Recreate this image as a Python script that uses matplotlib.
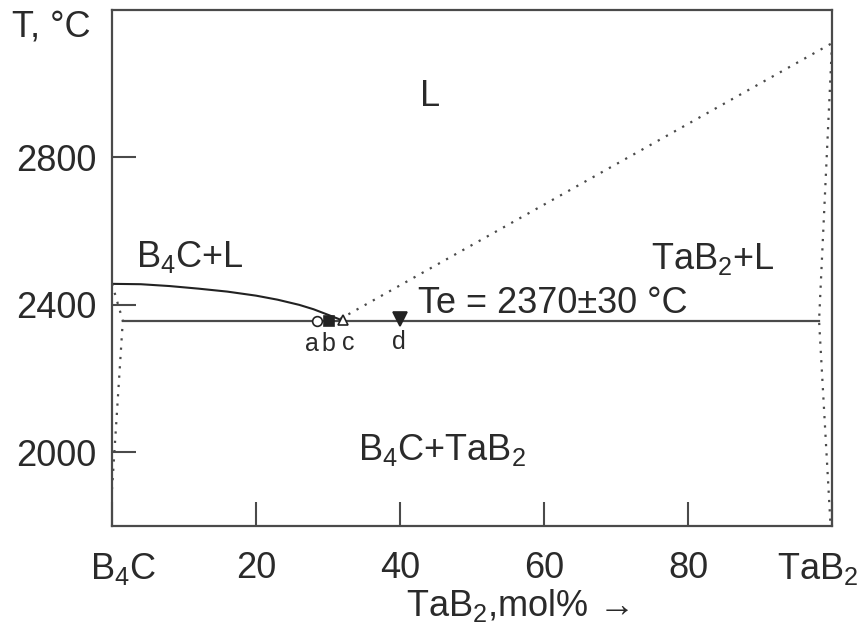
import matplotlib
matplotlib.use("Agg")
import matplotlib.pyplot as plt
import matplotlib.transforms as mtransforms

plt.rcParams["font.family"] = ["Liberation Sans", "DejaVu Sans"]
plt.rcParams["mathtext.default"] = "regular"

# phase-boundary data (x = TaB2 mol%, T in deg C)
eutectic_T = 2357
eutectic_x = [1.5, 98.2]
liq_b4c_x = [0, 4, 8, 12, 16, 20, 23, 26, 28, 30, 31.7]
liq_b4c_T = [2457, 2456, 2451, 2444, 2436, 2425, 2414, 2400, 2388, 2373, 2360]
liq_tab2_x = [31.7, 100]
liq_tab2_T = [2362, 3110]
sol_b4c_x = [0, 1.5, 0]
sol_b4c_T = [2457, 2357, 1900]
sol_tab2_x = [100, 98.2, 99.8]
sol_tab2_T = [3110, 2357, 1800]

# experimental points
pt_names = ["a", "b", "c", "d"]
pt_x = [28.5, 30.1, 32.1, 40.0]
pt_T = [2357, 2357, 2359, 2362]
pt_marker = ["o", "s", "^", "v"]
pt_filled = [False, True, False, True]

xticks = [0, 20, 40, 60, 80, 100]
xticklabels = ["B$_4$C", "20", "40", "60", "80", "TaB$_2$"]
yticks = [2000, 2400, 2800]

ink = "#2a2a2a"
line = "#4a4a4a"

fig = plt.figure(figsize=(8.59, 6.28), dpi=100)
ax = fig.add_axes([0.1304, 0.1624, 0.8382, 0.8217])
ax.set_xlim(0, 100)
ax.set_ylim(1800, 3200)

ax.plot(eutectic_x, [eutectic_T, eutectic_T], color=line, lw=1.6)
ax.plot(liq_b4c_x, liq_b4c_T, color="#222222", lw=1.5)
dots = dict(color=line, lw=1.6, linestyle=(0, (1, 3.2)))
ax.plot(liq_tab2_x, liq_tab2_T, **dots)
ax.plot(sol_b4c_x, sol_b4c_T, **dots)
ax.plot(sol_tab2_x, sol_tab2_T, **dots)

# small sideways nudges so the a/b/c letters do not run together
label_dx = {"a": -4, "b": 0, "c": 4, "d": -1}
for name, x, t, m, f in zip(pt_names, pt_x, pt_T, pt_marker, pt_filled):
    ms = 10 if m == "v" else 7
    ax.plot(x, t, marker=m, ms=ms, mec="#222222", mew=1.2,
            mfc="#222222" if f else "white", zorder=5)
    ax.annotate(name, (x, t), xytext=(label_dx[name], -8),
                textcoords="offset points",
                ha="center", va="top", fontsize=18, color=ink)

txt = dict(fontsize=26, color=ink)
ax.text(44.2, 2964, "L", ha="center", va="center", **txt)
ax.text(10.8, 2530, "B$_4$C+L", ha="center", va="center", **txt)
ax.text(83.5, 2525, "TaB$_2$+L", ha="center", va="center", **txt)
ax.text(45.8, 2005, "B$_4$C+TaB$_2$", ha="center", va="center", **txt)
ax.text(42.5, 2405, "Te = 2370±30 °C", ha="left", va="center", **txt)

ax.set_xticks(xticks)
ax.set_xticklabels(xticklabels)
ax.set_yticks(yticks)
ax.tick_params(direction="in", length=17, width=1.5, color=line,
               labelsize=26, labelcolor=ink)
ax.tick_params(axis="x", pad=18)
ax.tick_params(axis="y", pad=11)
labs = ax.get_xticklabels()
labs[0].set_transform(labs[0].get_transform() +
                      mtransforms.ScaledTranslation(11 / 100, 0, fig.dpi_scale_trans))
labs[-1].set_transform(labs[-1].get_transform() +
                       mtransforms.ScaledTranslation(-14 / 100, 0, fig.dpi_scale_trans))

for s in ax.spines.values():
    s.set_color(line)
    s.set_linewidth(1.6)

ax.set_xlabel("TaB$_2$,mol% →", fontsize=26, color=ink, x=0.5625, labelpad=0)
fig.text(12 / 859, 1 - 27 / 628, "T, °C", fontsize=26, color=ink,
         ha="left", va="center")

fig.savefig("out.png", dpi=100)
